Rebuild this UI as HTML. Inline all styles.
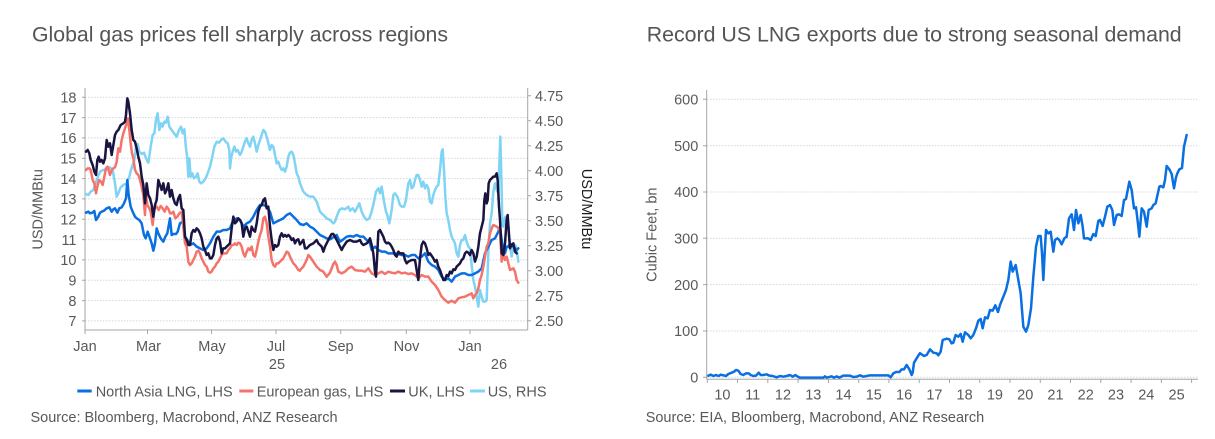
<!DOCTYPE html>
<html><head><meta charset="utf-8"><style>
html,body{margin:0;padding:0;background:#fff;}
svg{display:block;font-family:"Liberation Sans",Arial,sans-serif;}
.t{font-size:14.5px;fill:#595959;}
.grid{stroke:#cfd8df;stroke-width:1;stroke-dasharray:1.5,1.5;}
.ax{stroke:#a6a6a6;stroke-width:1;fill:none;}
.s{fill:none;stroke-width:2.5;stroke-linejoin:round;stroke-linecap:round;vector-effect:non-scaling-stroke;}
</style></head><body>
<svg width="1215" height="439" viewBox="0 0 1215 439" xmlns="http://www.w3.org/2000/svg">
<rect width="1215" height="439" fill="#fff"/>

<!-- Titles -->
<text x="32" y="41.5" font-size="21.3" fill="#555" textLength="416" lengthAdjust="spacingAndGlyphs">Global gas prices fell sharply across regions</text>
<text x="646.7" y="41.5" font-size="21.3" fill="#555" textLength="535" lengthAdjust="spacingAndGlyphs">Record US LNG exports due to strong seasonal demand</text>

<!-- LEFT CHART -->
<g class="grid">
<line x1="85" x2="528" y1="97.3" y2="97.3"/>
<line x1="85" x2="528" y1="117.6" y2="117.6"/>
<line x1="85" x2="528" y1="137.9" y2="137.9"/>
<line x1="85" x2="528" y1="158.3" y2="158.3"/>
<line x1="85" x2="528" y1="178.6" y2="178.6"/>
<line x1="85" x2="528" y1="198.9" y2="198.9"/>
<line x1="85" x2="528" y1="219.3" y2="219.3"/>
<line x1="85" x2="528" y1="239.6" y2="239.6"/>
<line x1="85" x2="528" y1="259.9" y2="259.9"/>
<line x1="85" x2="528" y1="280.3" y2="280.3"/>
<line x1="85" x2="528" y1="300.6" y2="300.6"/>
<line x1="85" x2="528" y1="320.9" y2="320.9"/>
</g>
<g class="ax">
<line x1="85" y1="88" x2="85" y2="330"/>
<line x1="527.7" y1="88" x2="527.7" y2="330"/>
<line x1="85" y1="330" x2="527.7" y2="330"/>
<path d="M82 97.3H85M82 117.6H85M82 137.9H85M82 158.3H85M82 178.6H85M82 198.9H85M82 219.3H85M82 239.6H85M82 259.9H85M82 280.3H85M82 300.6H85M82 320.9H85"/>
<path d="M527.7 95.7H531M527.7 120.7H531M527.7 145.7H531M527.7 170.7H531M527.7 195.7H531M527.7 220.7H531M527.7 245.7H531M527.7 270.7H531M527.7 295.7H531M527.7 320.7H531"/>
<path d="M85 330V334M147.5 330V334M211.6 330V334M276 330V334M340.7 330V334M406.3 330V334M470 330V334"/>
</g>
<g class="t" text-anchor="end">
<text x="76.5" y="102.5">18</text><text x="76.5" y="122.8">17</text><text x="76.5" y="143.1">16</text>
<text x="76.5" y="163.5">15</text><text x="76.5" y="183.8">14</text><text x="76.5" y="204.1">13</text>
<text x="76.5" y="224.5">12</text><text x="76.5" y="244.8">11</text><text x="76.5" y="265.1">10</text>
<text x="76.5" y="285.5">9</text><text x="76.5" y="305.8">8</text><text x="76.5" y="326.1">7</text>
</g>
<g class="t">
<text x="535" y="100.9">4.75</text><text x="535" y="125.9">4.50</text><text x="535" y="150.9">4.25</text>
<text x="535" y="175.9">4.00</text><text x="535" y="200.9">3.75</text><text x="535" y="225.9">3.50</text>
<text x="535" y="250.9">3.25</text><text x="535" y="275.9">3.00</text><text x="535" y="300.9">2.75</text>
<text x="535" y="325.9">2.50</text>
</g>
<g class="t" text-anchor="middle">
<text x="85" y="351">Jan</text><text x="148.5" y="351">Mar</text><text x="212" y="351">May</text>
<text x="276" y="351">Jul</text><text x="340.7" y="351">Sep</text><text x="406.5" y="351">Nov</text>
<text x="470" y="351">Jan</text>
<text x="277" y="369">25</text><text x="499" y="369">26</text>
</g>
<text class="t" text-anchor="middle" transform="translate(42.7,209.3) rotate(-90)">USD/MMBtu</text>
<text class="t" style="fill:#1a1a1a" text-anchor="middle" transform="translate(582,209) rotate(90)">USD/MMBtu</text>

<!-- left series, zoom1 coords -->
<g transform="translate(0,80) scale(0.333333)">
<polyline class="s" stroke="#7fd4f5" points="258,342 265,345 272,335 280,330 290,300 300,275 310,270 320,268 330,262 338,270 345,310 350,350 355,340 362,322 370,315 380,310 388,290 393,270 398,255 403,240 408,200 413,192 418,215 425,222 432,218 438,235 445,248 452,200 458,165 463,160 468,120 473,100 478,150 483,130 488,140 493,125 498,128 503,110 508,140 515,150 522,160 530,170 537,150 543,140 548,160 553,148 558,205 562,235 565,290 568,235 572,290 577,280 582,295 588,290 593,280 598,305 603,310 610,305 617,295 623,280 630,260 637,230 643,200 650,185 657,188 663,180 670,175 677,185 683,190 688,210 690,265 693,235 698,215 703,200 708,215 713,210 720,225 725,215 730,200 735,185 740,175 745,190 750,200 755,180 760,170 765,190 770,215 775,195 780,180 785,165 790,150 795,155 800,170 805,190 810,210 815,195 820,200 825,225 830,250 835,245 840,260 845,270 850,265 855,275 860,260 865,230 870,218 875,215 880,225 885,250 890,280 895,290 900,310"/>
<polyline class="s" stroke="#0a6fe0" points="258,398 265,395 270,400 277,398 283,393 288,420 295,410 300,398 305,395 312,392 320,385 328,382 335,395 340,388 345,385 352,398 358,385 365,382 372,370 378,355 382,300 386,345 392,380 398,395 405,410 410,415 418,420 425,430 432,465 437,475 443,455 450,475 455,490 460,512 465,490 470,445 475,460 482,475 490,485 496,470 502,460 510,415 515,465 520,462 528,462 533,455 540,430 548,425 555,470 562,480 570,495 580,490 590,500 600,505 610,510 620,505 630,490 640,470 650,455 660,455 670,450 680,450 690,445 700,420 710,415 720,420 730,440 740,430 750,425 760,410 770,390 780,375 790,375 800,380 810,395 820,430 830,425 840,420 850,415 860,405 870,400 880,410 890,420 900,432"/>
<polyline class="s" stroke="#f4736a" points="258,270 263,265 268,265 272,270 278,300 283,310 288,340 292,320 297,300 303,305 308,315 313,290 318,265 323,260 330,285 335,270 340,265 345,262 350,245 355,205 360,215 365,180 370,160 375,145 380,130 384,115 388,150 392,190 396,220 400,235 405,270 410,280 415,285 420,300 425,320 430,345 435,405 438,345 442,375 448,385 452,395 458,435 462,395 466,380 470,380 476,390 482,378 488,385 494,395 500,380 506,388 510,400 515,400 520,395 526,415 532,410 538,400 545,395 550,440 555,490 560,500 565,545 570,555 575,550 580,540 585,530 590,515 595,512 600,520 605,535 610,545 615,555 620,560 625,575 630,578 635,575 640,565 645,560 650,550 655,545 660,535 665,525 670,520 675,520 680,520 685,510 690,505 695,495 700,495 705,490 710,495 715,488 720,490 725,500 730,520 735,530 740,515 745,505 750,510 755,500 760,525 765,530 770,510 775,485 780,465 785,450 790,415 795,410 800,430 805,470 810,500 815,540 820,555 825,560 830,550 835,550 840,545 845,540 850,535 855,525 860,515 865,518 870,530 875,540 880,550 885,555 890,562 895,570 900,572"/>
<polyline class="s" stroke="#1a1440" points="258,215 263,210 268,220 272,240 278,255 283,275 288,285 292,240 296,230 300,245 305,240 310,250 315,235 320,180 325,200 330,190 335,225 340,195 345,165 350,155 355,150 362,135 370,130 375,125 378,105 382,55 385,65 390,100 395,150 400,180 405,185 410,205 415,230 420,250 425,290 430,315 435,370 440,310 445,345 450,355 455,375 460,410 465,375 470,360 475,300 480,315 485,330 490,310 495,340 500,330 505,310 510,350 515,330 520,355 525,370 530,375 535,355 540,345 545,385 550,390 555,470 560,480 565,495 570,495 575,460 580,450 585,455 590,445 595,450 600,460 605,475 610,500 615,510 620,525 625,520 630,535 635,535 640,525 645,495 650,475 655,470 660,485 665,520 670,505 675,505 680,500 685,495 690,490 695,445 700,410 705,430 710,425 715,415 720,420 725,430 730,470 735,445 740,440 745,455 750,470 755,440 760,450 765,455 770,430 775,395 780,380 785,375 790,360 795,355 800,385 805,380 810,440 815,480 820,510 825,495 830,500 835,495 840,470 845,460 850,470 855,465 860,470 865,465 870,470 875,480 880,475 885,490 890,480 895,478 900,493"/>
</g>
<!-- left series, zoom2 coords -->
<g transform="translate(300,80) scale(0.333333)">
<polyline class="s" stroke="#7fd4f5" points="0,310 10,335 20,345 30,350 40,350 50,365 60,395 70,405 80,415 90,420 100,430 105,425 110,410 118,390 125,385 135,388 145,380 150,392 158,385 165,395 172,382 178,370 185,395 192,410 200,420 208,415 215,395 222,365 228,335 235,325 240,340 245,320 252,365 258,395 262,405 268,430 275,390 280,345 285,340 292,350 300,375 305,380 312,380 318,360 325,310 330,300 335,325 340,320 345,300 350,285 355,285 360,300 365,320 370,305 375,325 380,315 385,325 390,365 395,370 400,345 405,330 410,320 415,315 420,270 425,215 428,208 432,270 436,350 440,400 445,420 450,450 455,470 460,480 465,490 470,520 475,530 480,495 485,480 490,480 495,465 500,485 505,500 510,505 515,555 520,600 525,620 530,650 535,680 540,630 545,650 550,665 555,665 560,660 565,520 570,430 575,400 580,335 585,310 590,330 595,340 598,250 601,170 604,290 607,430 610,440 613,420 616,410 620,420 625,440 630,500 635,530 640,500 645,495 650,505 655,545"/>
<polyline class="s" stroke="#0a6fe0" points="0,432 10,435 20,430 30,440 40,445 50,455 60,465 70,470 80,475 90,478 100,472 110,465 120,485 130,478 140,470 150,468 160,470 170,465 180,470 190,470 200,480 210,490 215,510 225,500 235,510 245,515 255,515 265,520 275,520 285,520 295,522 305,525 315,525 325,530 335,525 345,525 355,535 365,530 375,520 385,545 395,555 405,560 415,570 425,590 435,600 445,595 455,605 465,590 475,585 485,580 495,580 505,585 515,585 525,580 535,575 545,565 555,520 565,500 575,480 585,475 595,455 600,440 605,480 610,520 615,520 620,500 625,500 630,490 640,500 650,510 655,505"/>
<polyline class="s" stroke="#f4736a" points="0,570 10,560 20,540 25,525 30,530 40,545 50,560 60,570 70,575 80,590 90,578 100,552 105,545 110,555 115,575 125,580 135,575 145,565 155,560 165,570 175,572 185,572 195,575 205,565 215,580 225,585 235,580 245,575 255,582 265,575 275,578 285,580 295,575 305,580 315,578 325,582 335,580 345,585 355,595 365,585 375,590 385,590 395,605 405,615 415,630 425,650 435,660 445,668 455,662 465,668 475,655 485,652 495,650 505,645 515,640 520,655 525,645 530,640 535,625 540,600 545,585 550,560 555,530 560,500 565,490 570,460 575,445 580,435 590,440 600,450 605,545 610,520 615,540 620,530 625,550 630,570 640,565 645,575 650,600 655,608"/>
<polyline class="s" stroke="#1a1440" points="0,493 10,480 15,505 20,505 30,495 40,490 50,480 55,490 65,500 70,515 75,500 80,490 85,480 90,470 95,462 100,462 105,470 110,480 120,500 125,510 130,500 140,485 150,480 160,485 170,485 180,480 185,490 190,495 200,490 205,485 210,475 215,495 220,520 225,575 228,590 232,520 235,455 240,450 245,460 250,470 255,485 260,490 265,488 270,492 275,500 280,510 285,525 290,530 295,515 300,520 310,520 315,540 320,550 325,545 335,540 345,540 355,600 360,535 365,495 370,485 375,490 380,505 385,525 390,520 400,535 405,545 410,540 415,560 420,570 425,585 430,600 435,600 440,585 445,588 450,575 455,580 460,568 465,570 470,560 475,555 480,550 485,540 490,535 495,520 500,515 505,518 510,525 515,510 520,520 525,545 530,530 535,500 540,460 545,440 550,420 553,360 556,340 560,370 563,360 566,310 570,300 575,295 580,290 585,290 590,280 593,300 597,380 600,420 605,520 610,525 615,490 620,420 623,405 626,450 630,505 635,495 640,490 645,515 650,520"/>
</g>

<!-- legend -->
<g stroke-width="3">
<line x1="77.3" x2="91.7" y1="391" y2="391" stroke="#0a6fe0"/>
<line x1="239.3" x2="253.3" y1="391" y2="391" stroke="#f4736a"/>
<line x1="390" x2="405" y1="391" y2="391" stroke="#1a1440"/>
<line x1="470" x2="485" y1="391" y2="391" stroke="#7fd4f5"/>
</g>
<g class="t">
<text x="95.7" y="396.5">North Asia LNG, LHS</text>
<text x="256.7" y="396.5">European gas, LHS</text>
<text x="408.3" y="396.5">UK, LHS</text>
<text x="487.7" y="396.5">US, RHS</text>
<text x="30.5" y="422">Source: Bloomberg, Macrobond, ANZ Research</text>
<text x="645.7" y="422">Source: EIA, Bloomberg, Macrobond, ANZ Research</text>
</g>

<!-- RIGHT CHART -->
<g class="grid">
<line x1="707" x2="1198" y1="99.3" y2="99.3"/>
<line x1="707" x2="1198" y1="145.7" y2="145.7"/>
<line x1="707" x2="1198" y1="192" y2="192"/>
<line x1="707" x2="1198" y1="238.3" y2="238.3"/>
<line x1="707" x2="1198" y1="284.6" y2="284.6"/>
<line x1="707" x2="1198" y1="331" y2="331"/>
<line x1="707" x2="1198" y1="377.3" y2="377.3"/>
</g>
<g class="ax">
<line x1="706.7" y1="90" x2="706.7" y2="379.3"/>
<line x1="706.7" y1="379.3" x2="1198" y2="379.3"/>
<path d="M703 99.3H706.7M703 145.7H706.7M703 192H706.7M703 238.3H706.7M703 284.6H706.7M703 331H706.7M703 377.3H706.7"/>
<path d="M707.3 379.3V383M737.6 379.3V383M767.8 379.3V383M798.1 379.3V383M828.4 379.3V383M858.7 379.3V383M888.9 379.3V383M919.2 379.3V383M949.5 379.3V383M979.7 379.3V383M1010 379.3V383M1040.3 379.3V383M1070.5 379.3V383M1100.8 379.3V383M1131.1 379.3V383M1161.4 379.3V383M1191.6 379.3V383"/>
</g>
<g class="t" text-anchor="end">
<text x="698.3" y="104.5">600</text><text x="698.3" y="150.9">500</text><text x="698.3" y="197.2">400</text>
<text x="698.3" y="243.5">300</text><text x="698.3" y="289.8">200</text><text x="698.3" y="336.2">100</text>
<text x="698.3" y="382.5">0</text>
</g>
<g class="t" text-anchor="middle">
<text x="722.4" y="399.3">10</text><text x="752.7" y="399.3">11</text><text x="783" y="399.3">12</text>
<text x="813.3" y="399.3">13</text><text x="843.5" y="399.3">14</text><text x="873.8" y="399.3">15</text>
<text x="904.1" y="399.3">16</text><text x="934.4" y="399.3">17</text><text x="964.6" y="399.3">18</text>
<text x="994.9" y="399.3">19</text><text x="1025.2" y="399.3">20</text><text x="1055.5" y="399.3">21</text>
<text x="1085.7" y="399.3">22</text><text x="1116" y="399.3">23</text><text x="1146.3" y="399.3">24</text>
<text x="1176.6" y="399.3">25</text>
</g>
<text class="t" text-anchor="middle" transform="translate(656.5,234.7) rotate(-90)">Cubic Feet, bn</text>

<g transform="translate(630,80) scale(0.333333)">
<polyline class="s" stroke="#0a6fe0" points="235,887 242,884 250,888 258,885 266,888 272,884 280,886 288,888 295,882 305,878 312,875 318,870 325,872 332,882 340,885 348,880 356,880 362,885 370,888 378,887 386,878 392,885 400,885 410,883 418,887 428,888 440,892 450,888 460,890 470,888 480,885 488,890 496,885 503,890 510,893 540,893 580,893 585,889 590,893 605,889 612,893 620,889 628,893 640,887 660,887 670,891 680,890 690,886 700,890 710,888 720,886 775,886 782,892 790,880 798,876 808,876 815,868 822,868 830,855 838,868 845,885 848,878 852,848 860,835 868,822 870,820"/>
</g>
<g transform="translate(920,80) scale(0.333333)">
<polyline class="s" stroke="#0a6fe0" points="0,820 12,828 20,825 30,808 40,818 50,820 55,826 62,815 68,780 80,776 88,778 95,790 100,788 107,765 115,770 122,762 128,785 135,757 145,765 152,775 160,765 168,745 175,722 182,717 188,745 195,712 203,715 210,690 218,692 226,676 234,696 240,675 250,650 258,630 265,600 272,545 278,575 287,555 295,600 302,640 310,740 318,755 325,735 333,685 340,590 348,500 355,468 362,468 366,520 370,600 374,520 378,450 385,460 392,455 400,515 405,480 412,475 418,480 425,493 433,475 440,470 447,415 455,403 462,450 468,390 475,430 482,405 488,440 492,475 505,475 512,480 520,462 527,468 535,423 540,420 548,438 555,410 562,380 570,375 577,390 582,435 590,405 597,403 605,408 612,360 618,357 628,305 635,330 642,385 648,382 655,440 658,470 665,385 672,395 680,440 686,390 695,385 700,375 707,370 712,347 718,320 722,318 730,322 735,300 740,258 748,268 755,282 762,325 768,292 772,280 778,268 786,264 792,200 800,165"/>
</g>
</svg>
</body></html>
